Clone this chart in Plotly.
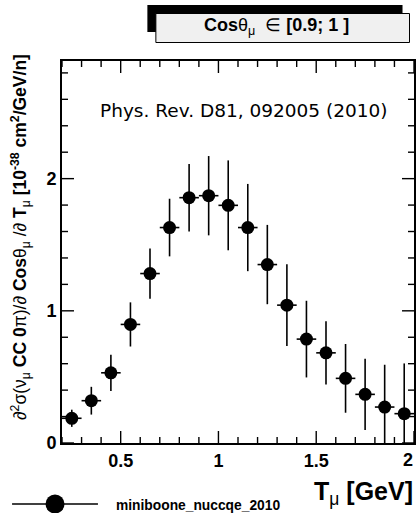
import plotly.graph_objects as go

# Data
t_mu = [0.25, 0.35, 0.45, 0.55, 0.65, 0.75, 0.85, 0.95, 1.05, 1.15,
        1.25, 1.35, 1.45, 1.55, 1.65, 1.75, 1.85, 1.95]
xsec = [0.187, 0.32, 0.531, 0.897, 1.282, 1.63, 1.856, 1.871, 1.798, 1.63,
        1.35, 1.043, 0.786, 0.682, 0.489, 0.368, 0.272, 0.222]
xsec_err = [0.065, 0.105, 0.137, 0.167, 0.19, 0.218, 0.255, 0.30, 0.34, 0.33,
            0.30, 0.31, 0.29, 0.24, 0.26, 0.27, 0.32, 0.38]
bin_half = [0.05] * len(t_mu)

x_ticks = [0.5, 1, 1.5, 2]
x_ticktext = ["0.5", "1", "1.5", "2"]
y_ticks = [0, 1, 2]
y_ticktext = ["0", "1", "2"]
x_minor = [round(0.2 + 0.1 * i, 2) for i in range(19)]
y_minor = [round(0.2 * i, 2) for i in range(15)]

W, H = 416, 513
L, R, T, B = 62, 1.5, 61, 70
XR = [0.2, 2.0]
YR = [0, 2.89]
PW, PH = W - L - R, H - T - B

fig = go.Figure()
fig.add_trace(go.Scatter(
    x=t_mu, y=xsec, mode="markers",
    marker=dict(color="black", size=13, symbol="circle"),
    error_y=dict(type="data", array=xsec_err, color="black", thickness=1.6, width=0),
    error_x=dict(type="data", array=bin_half, color="black", thickness=1.6, width=0),
    showlegend=False, cliponaxis=True,
))

axis_font = dict(family="Liberation Sans, Arial, sans-serif", size=18, color="black")

# last x label drawn separately so it is not cut at the page edge
fig.update_xaxes(
    range=XR, showline=True, linecolor="black", linewidth=2, mirror=True,
    ticks="", tickmode="array", tickvals=x_ticks[:-1],
    ticktext=[f"<b>{t}</b>" for t in x_ticktext[:-1]],
    tickfont=axis_font, showgrid=False, zeroline=False, automargin=False,
)
fig.update_yaxes(
    range=YR, showline=True, linecolor="black", linewidth=2, mirror=True,
    ticks="", tickmode="array", tickvals=y_ticks,
    ticktext=[f"<b>{t}</b>" for t in y_ticktext],
    tickfont=axis_font, showgrid=False, zeroline=False, automargin=False,
)


def px_x(px):
    return (px - L) / PW


def px_y(py):
    return (H - B - py) / PH


shapes = []
# tick marks (inside, on all four sides)
tick_line = dict(color="black", width=1.4)
for v in x_minor:
    ln = 12 if v in x_ticks else 6
    for y0, y1 in ((0, ln / PH), (1, 1 - ln / PH)):
        shapes.append(dict(type="line", xref="x", yref="paper", x0=v, x1=v,
                           y0=y0, y1=y1, line=tick_line, layer="above"))
for v in y_minor:
    ln = 12 if v in y_ticks else 6
    for x0, x1 in ((0, ln / PW), (1, 1 - ln / PW)):
        shapes.append(dict(type="line", xref="paper", yref="y", x0=x0, x1=x1,
                           y0=v, y1=v, line=tick_line, layer="above"))

shapes.append(dict(type="rect", xref="paper", yref="paper",
                   x0=px_x(147.5), x1=px_x(403), y0=px_y(32), y1=px_y(5),
                   fillcolor="black", line=dict(width=0)))
shapes.append(dict(type="rect", xref="paper", yref="paper",
                   x0=px_x(156), x1=px_x(410), y0=px_y(42.5), y1=px_y(13.5),
                   fillcolor="#f0f0f0", line=dict(color="black", width=1)))
shapes.append(dict(type="line", xref="paper", yref="paper",
                   x0=px_x(12), x1=px_x(98), y0=px_y(504), y1=px_y(504),
                   line=dict(color="black", width=1.5)))
shapes.append(dict(type="circle", xref="paper", yref="paper",
                   x0=px_x(45.5), x1=px_x(64.5), y0=px_y(513.5), y1=px_y(494.5),
                   fillcolor="black", line=dict(color="black", width=0)))

annotations = []
annotations.append(dict(
    xref="x", yref="paper", x=x_ticks[-1], y=px_y(460), xanchor="right", yanchor="middle",
    text=f"<b>{x_ticktext[-1]}</b>", showarrow=False, xshift=1, font=axis_font))
annotations.append(dict(
    xref="paper", yref="paper", x=px_x(277), y=px_y(26), xanchor="center", yanchor="middle",
    text="<b>Cos</b>θ<sub>μ</sub>  ∈ <b>[0.9; 1 ]</b>", showarrow=False,
    font=dict(family="Liberation Sans, Arial, sans-serif", size=18, color="black")))
annotations.append(dict(
    xref="paper", yref="paper", x=px_x(244), y=px_y(111), xanchor="center", yanchor="middle",
    text="Phys. Rev. D81, 092005 (2010)", showarrow=False,
    font=dict(family="DejaVu Sans, sans-serif", size=18.5, color="black")))
annotations.append(dict(
    xref="paper", yref="paper", x=px_x(416), y=px_y(493), xanchor="right", yanchor="middle",
    text="<b>T</b><sub>μ</sub><b> [GeV]</b>", showarrow=False,
    font=dict(family="Liberation Sans, Arial, sans-serif", size=25, color="black")))
annotations.append(dict(
    xref="paper", yref="paper", x=px_x(114), y=px_y(505), xanchor="left", yanchor="middle",
    text="<b>miniboone_nuccqe_2010</b>", showarrow=False,
    font=dict(family="Liberation Sans, Arial, sans-serif", size=13.8, color="black")))
annotations.append(dict(
    xref="paper", yref="paper", x=px_x(21), y=px_y(52), xanchor="center", yanchor="top",
    textangle=-90,
    text=("∂<sup>2</sup>σ(ν<sub>μ</sub> <b>CC 0</b>π)/∂ <b>Cos</b>θ<sub>μ</sub> /∂ <b>T</b><sub>μ</sub>"
          " <b>[10<sup>-38</sup> cm<sup>2</sup>/GeV/n]</b>"),
    showarrow=False,
    font=dict(family="Liberation Sans, Arial, sans-serif", size=17.5, color="black")))

fig.update_layout(
    width=W, height=H,
    margin=dict(l=L, r=R, t=T, b=B, pad=0, autoexpand=False),
    paper_bgcolor="white", plot_bgcolor="white",
    shapes=shapes, annotations=annotations,
    showlegend=False,
)

fig.write_html("out.html")
